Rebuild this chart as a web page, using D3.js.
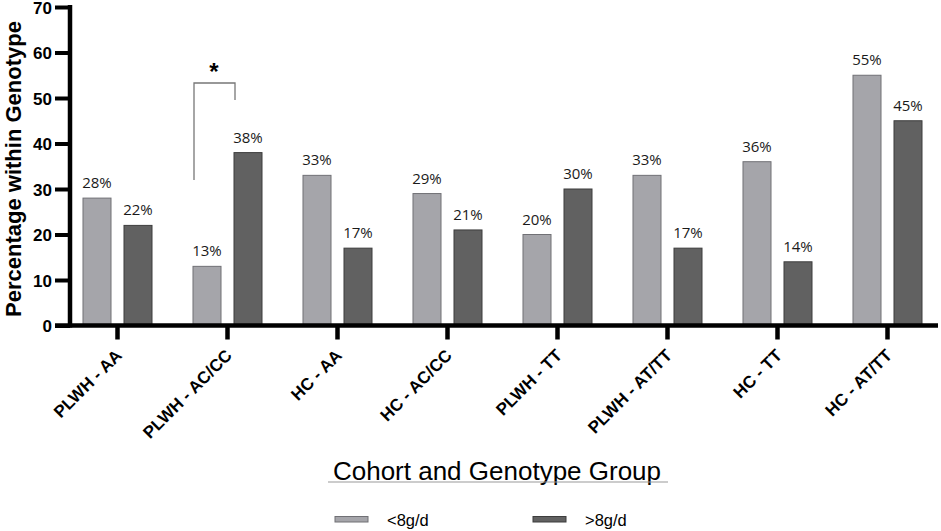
<!DOCTYPE html>
<html><head><meta charset="utf-8">
<script src="https://cdn.jsdelivr.net/npm/d3@7"></script>
<style>body{margin:0;background:#fff}svg{display:block}</style>
</head><body>
<svg id="chart" width="941" height="531"></svg>
<script>
const categories = ["PLWH - AA","PLWH - AC/CC","HC - AA","HC - AC/CC","PLWH - TT","PLWH - AT/TT","HC - TT","HC - AT/TT"];
const seriesNames = ["<8g/d", ">8g/d"];
const lowValues = [28,13,33,29,20,33,36,55];
const highValues = [22,38,17,21,30,17,14,45];
const yTicks = [0,10,20,30,40,50,60,70];
const colors = ["#a5a5aa","#616161"];
const strokes = ["#707075","#3d3d3d"];

const svg = d3.select("#chart");
const x = d3.scaleBand().domain(categories).range([62.5, 942.5]);
const sub = d3.scaleBand().domain(seriesNames).range([0, x.bandwidth()]).paddingInner(0.317).paddingOuter(0.5);
const y = d3.scaleLinear().domain([0,70]).range([325.5, 7]);

const data = categories.map((c,i)=>({c, v:[lowValues[i], highValues[i]]}));

// bars
const g = svg.append("g");
data.forEach(d=>{
  d.v.forEach((v,j)=>{
    const bx = x(d.c) + sub(seriesNames[j]);
    g.append("rect").attr("x", bx).attr("y", y(v)).attr("width", sub.bandwidth()).attr("height", y(0)-y(v))
      .attr("fill", colors[j]).attr("stroke", strokes[j]).attr("stroke-width", 1);
    g.append("text").attr("x", bx + sub.bandwidth()/2).attr("y", y(v) - 10)
      .attr("text-anchor","middle").attr("font-family","'Open Sans', sans-serif").attr("font-size", 15)
      .attr("fill","#1a1a1a").text(v + "%");
  });
});

// y axis
const yAxis = d3.axisLeft(y).tickValues(yTicks).tickSize(15).tickPadding(3);
const ya = svg.append("g").attr("transform","translate(70,0)").call(yAxis);
ya.select(".domain").attr("stroke","#000").attr("stroke-width",4.5).attr("d","M0,327.5V5");
ya.selectAll(".tick line").attr("stroke","#000").attr("stroke-width",4);
ya.selectAll(".tick text").attr("font-family","Arial, 'Liberation Sans', sans-serif").attr("font-weight","bold").attr("font-size",17).attr("fill","#000").attr("dy","0.36em");

// x axis
const xAxis = d3.axisBottom(x).tickSize(14).tickSizeOuter(0).tickPadding(0);
const xa = svg.append("g").attr("transform","translate(0,325.5)").call(xAxis);
xa.select(".domain").attr("stroke","#000").attr("stroke-width",4.5).attr("d","M55,0H938");
xa.selectAll(".tick line").attr("stroke","#000").attr("stroke-width",4.5);
xa.selectAll(".tick text")
  .attr("font-family","Arial, 'Liberation Sans', sans-serif").attr("font-weight","bold").attr("font-size",17).attr("fill","#000")
  .attr("text-anchor","end").attr("transform","translate(5.5,31) rotate(-45)").attr("dy","0").attr("y",0);

// significance bracket
const c2 = x(categories[1]) + x.bandwidth()/2;
svg.append("path").attr("d", `M${c2-33.5},180V83H${c2+7.5}V100`).attr("fill","none").attr("stroke","#777").attr("stroke-width",1.3);
svg.append("text").attr("x", c2-13.5).attr("y", 80).attr("text-anchor","middle")
  .attr("font-family","Arial, sans-serif").attr("font-weight","bold").attr("font-size",24).text("*");

// x title
svg.append("text").attr("x", 497).attr("y", 480).attr("text-anchor","middle")
  .attr("font-family","Arial, 'Liberation Sans', sans-serif").attr("font-size",26).attr("fill","#000").text("Cohort and Genotype Group");
svg.append("line").attr("x1",328).attr("x2",668).attr("y1",482).attr("y2",482).attr("stroke","#999").attr("stroke-width",1);

// legend
const legX = [335, 533];
seriesNames.forEach((s,j)=>{
  svg.append("rect").attr("x",legX[j]).attr("y",516.5).attr("width",33).attr("height",5.5).attr("fill",colors[j]).attr("stroke",strokes[j]).attr("stroke-width",1);
  svg.append("text").attr("x",legX[j]+52).attr("y",526).attr("font-family","Arial, 'Liberation Sans', sans-serif").attr("font-size",16.5).attr("fill","#000").text(s);
});

// y title
svg.append("text").attr("transform","translate(21,169) rotate(-90)").attr("text-anchor","middle")
  .attr("font-family","Arial, 'Liberation Sans', sans-serif").attr("font-weight","bold").attr("font-size",22).attr("fill","#000").text("Percentage within Genotype");
</script>
</body></html>
